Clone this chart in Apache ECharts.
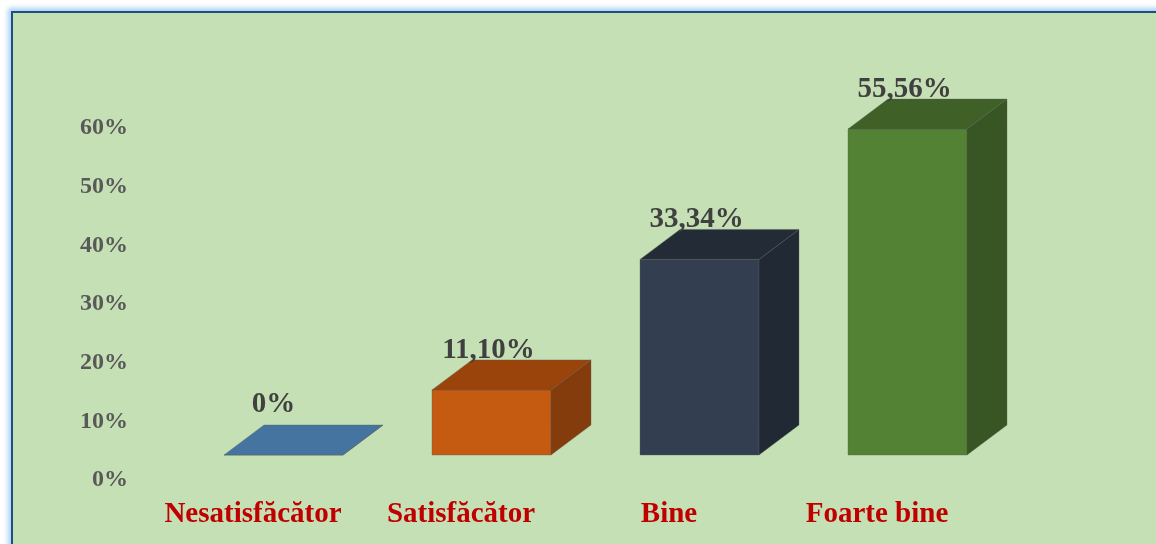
<!DOCTYPE html>
<html>
<head>
<meta charset="utf-8">
<script src="https://cdn.jsdelivr.net/npm/echarts@6/dist/echarts.min.js"></script>
<style>
  html, body { margin: 0; padding: 0; background: #fff; overflow: hidden; }
  .frame {
    position: absolute; left: 11px; top: 11px; width: 1200px; height: 600px;
    background: #c5e0b4; border: 2px solid #1f4e79;
    box-shadow: 0 0 5px 3px #a9d1f7;
  }
  #chart { position: absolute; left: 0; top: 0; width: 1156px; height: 544px; }
</style>
</head>
<body>
<div class="frame"></div>
<div id="chart"></div>
<script>
var categories = ['Nesatisfăcător', 'Satisfăcător', 'Bine', 'Foarte bine']
var values = [0, 11.10, 33.34, 55.56]
var yTicks = [0, 10, 20, 30, 40, 50, 60]

// front, top, side
var barColors = [
  ['#4674a1', '#4674a1', '#3a6289'],
  ['#c55a11', '#9a440b', '#843c0c'],
  ['#333f50', '#232b37', '#212935'],
  ['#548235', '#3f6128', '#375623']
]

var font = 'Liberation Serif, Times New Roman, serif'

function fmt(v) {
  if (v === 0) return '0%'
  return v.toFixed(2).replace('.', ',') + '%'
}

var chart = echarts.init(document.getElementById('chart'))

var option = {
  animation: false,
  grid: [
    // bars (front plane)
    {left: 179.5, right: 144.5, top: 103, bottom: 89},
    // labels plane
    {left: 149, right: 175, top: 128, bottom: 64}
  ],
  xAxis: [
    {
      gridIndex: 0, type: 'category', data: categories,
      axisLine: {show: false}, axisTick: {show: false}, axisLabel: {show: false}
    },
    {
      gridIndex: 1, type: 'category', data: categories,
      axisLine: {show: false}, axisTick: {show: false},
      axisLabel: {
        margin: 20, color: '#c00000', fontSize: 29, fontWeight: 'bold', fontFamily: font,
        interval: 0
      }
    }
  ],
  yAxis: [
    {
      gridIndex: 0, type: 'value', min: 0, max: 60,
      axisLine: {show: false}, axisTick: {show: false}, axisLabel: {show: false},
      splitLine: {show: false}
    },
    {
      gridIndex: 1, type: 'value', min: yTicks[0], max: yTicks[yTicks.length - 1], interval: 10,
      axisLine: {show: false}, axisTick: {show: false}, splitLine: {show: false},
      axisLabel: {
        margin: 21, color: '#595959', fontSize: 24, fontWeight: 'bold', fontFamily: font,
        formatter: '{value}%'
      }
    }
  ],
  series: [
    {
      type: 'custom',
      xAxisIndex: 0,
      yAxisIndex: 0,
      data: categories.map(function (c, i) { return [i, values[i]] }),
      renderItem: function (params, api) {
        var c = api.coord([api.value(0), api.value(1)])
        var b = api.coord([api.value(0), 0])
        var bw = api.size([1, 0])[0] * 0.572
        var x0 = c[0] - bw / 2, x1 = c[0] + bw / 2
        var top = c[1], bot = b[1]
        var dx = 40, dy = 30
        var col = barColors[params.dataIndex]
        var edge = {stroke: 'rgba(90,90,90,0.35)', lineWidth: 1}
        var v = api.value(1)
        return {
          type: 'group',
          children: [
            {
              type: 'rect',
              shape: {x: x0, y: top, width: bw, height: bot - top},
              style: Object.assign({fill: col[0]}, edge)
            },
            {
              type: 'polygon',
              shape: {points: [[x0, top], [x0 + dx, top - dy], [x1 + dx, top - dy], [x1, top]]},
              style: Object.assign({fill: col[1]}, edge)
            },
            {
              type: 'polygon',
              shape: {points: [[x1, top], [x1 + dx, top - dy], [x1 + dx, bot - dy], [x1, bot]]},
              style: Object.assign({fill: col[2]}, edge)
            },
            {
              type: 'text',
              x: c[0] - (v === 0 ? 10 : 3),
              y: top - dy + (v === 0 ? -6 : 5),
              style: {
                text: fmt(v),
                fill: '#404040',
                font: 'bold 29px ' + font,
                textAlign: 'center',
                textVerticalAlign: 'bottom'
              }
            }
          ]
        }
      }
    }
  ]
}

chart.setOption(option)
</script>
</body>
</html>
